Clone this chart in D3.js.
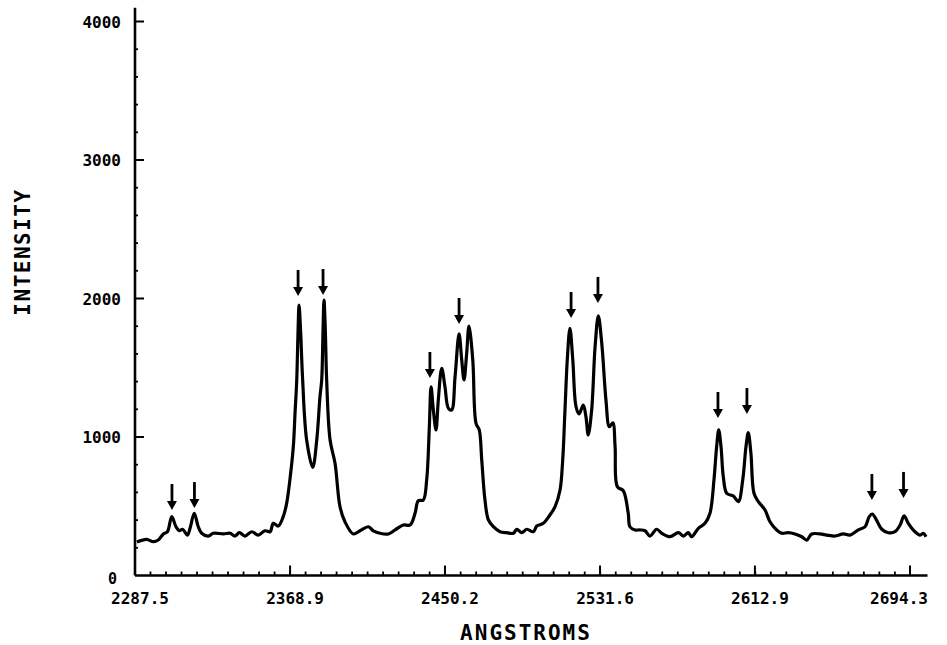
<!DOCTYPE html>
<html>
<head>
<meta charset="utf-8">
<script src="https://cdn.jsdelivr.net/npm/d3@7"></script>
<style>
  html, body { margin: 0; padding: 0; background: #fff; }
  svg { display: block; }
  text { font-family: "DejaVu Sans Mono", "Liberation Mono", monospace; font-weight: bold; fill: #000; }
</style>
</head>
<body>
<svg id="chart" width="947" height="645"></svg>
<script>
// Emission spectrum trace: wavelength (angstroms) and recorded intensity
const wavelengths = [
  2288.5, 2293.6, 2297.1, 2299.7, 2302.4, 2304.5, 2306.8, 2309.0, 2310.8, 2312.5,
  2315.0, 2316.4, 2318.6, 2320.7, 2322.5, 2326.0, 2328.6, 2333.9, 2337.4, 2340.0,
  2342.3, 2345.2, 2348.8, 2352.2, 2355.7, 2358.4, 2360.1, 2362.7, 2365.3, 2367.1,
  2369.2, 2370.6, 2371.5, 2372.4, 2373.1, 2373.6, 2374.4, 2375.5, 2377.6, 2380.8,
  2382.9, 2384.6, 2385.5, 2386.2, 2386.7, 2387.4, 2388.1, 2389.9, 2392.5, 2395.1,
  2397.7, 2402.1, 2405.6, 2410.0, 2412.6, 2416.1, 2420.5, 2424.0, 2428.3, 2431.9,
  2434.5, 2436.2, 2438.8, 2440.6, 2442.0, 2442.9, 2444.1, 2445.5, 2446.7, 2448.5,
  2450.2, 2452.0, 2453.7, 2455.5, 2457.6, 2459.0, 2460.2, 2461.6, 2462.8, 2464.8,
  2466.5, 2468.2, 2469.5, 2471.2, 2473.0, 2475.6, 2479.1, 2482.6, 2486.1, 2487.9,
  2490.5, 2493.1, 2496.6, 2498.4, 2501.8, 2505.3, 2508.0, 2510.6, 2512.0, 2513.2,
  2514.4, 2515.8, 2517.3, 2519.0, 2520.6, 2522.8, 2524.2, 2525.4, 2527.2, 2529.0,
  2530.7, 2532.5, 2534.7, 2536.5, 2538.3, 2539.5, 2540.7, 2543.8, 2546.4, 2547.3,
  2550.0, 2552.6, 2555.2, 2557.8, 2561.3, 2564.0, 2568.3, 2572.7, 2575.3, 2577.9,
  2579.7, 2583.2, 2586.7, 2589.3, 2591.4, 2592.8, 2593.9, 2595.1, 2596.3, 2598.1,
  2601.6, 2604.2, 2606.5, 2608.2, 2609.4, 2610.8, 2612.4, 2614.7, 2618.2, 2620.8,
  2624.3, 2627.0, 2630.4, 2633.9, 2637.5, 2640.1, 2642.7, 2647.1, 2650.6, 2654.9,
  2659.3, 2662.8, 2667.2, 2670.7, 2672.9, 2674.5, 2676.5, 2679.5, 2682.9, 2686.4,
  2689.1, 2691.2, 2693.4, 2696.9, 2699.6, 2701.3, 2702.7
];
const intensities = [
   242,  261,  244,  256,  300,  316,  425,  352,  323,  334,
   292,  341,  449,  352,  305,  285,  305,  300,  305,  285,
   309,  285,  316,  292,  323,  316,  377,  357,  425,  521,
   738,  930, 1171, 1412, 1773, 1953, 1773, 1412,  978,  781,
   978, 1291, 1412, 1773, 1989, 1773, 1412,  978,  810,  497,
   388,  300,  323,  352,  323,  305,  300,  329,  365,  365,
   449,  540,  545,  690, 1074, 1363, 1195, 1051, 1267, 1496,
  1363, 1207, 1195, 1435, 1744, 1556, 1412, 1604, 1801, 1556,
  1099, 1051,  834,  545,  401,  352,  316,  309,  305,  334,
   309,  334,  316,  357,  377,  437,  497,  617,  834, 1195,
  1556, 1785, 1556, 1219, 1166, 1231, 1147, 1014, 1195, 1652,
  1874, 1677, 1267, 1074, 1103,  930,  641,  612,  449,  352,
   329,  329,  323,  285,  334,  305,  280,  309,  285,  309,
   280,  341,  377,  449,  690,  930, 1051,  930,  713,  594,
   574,  533,  690,  930, 1031,  882,  594,  533,  473,  388,
   329,  305,  309,  300,  280,  256,  300,  300,  292,  285,
   300,  292,  329,  352,  425,  444,  406,  334,  309,  316,
   365,  430,  377,  316,  292,  305,  280
];

// Axis ticks
const xTickValues = [2287.5, 2368.9, 2450.2, 2531.6, 2612.9, 2694.3];
const xTickLabels = ["2287.5", "2368.9", "2450.2", "2531.6", "2612.9", "2694.3"];
const yTickValues = [0, 1000, 2000, 3000, 4000];
const yTickLabels = ["0", "1000", "2000", "3000", "4000"];

// Marked lines: wavelength and intensity at the arrow tip
const arrowWavelengths = [2306.9, 2318.7, 2373.1, 2386.2, 2442.3, 2457.6, 2516.4, 2530.5, 2593.5, 2608.7, 2674.3, 2690.9];
const arrowTips = [473, 487, 2018, 2025, 1426, 1816, 1859, 1968, 1137, 1166, 545, 560];

const svg = d3.select("#chart");

const x = d3.scaleLinear().domain([2287.5, 2694.3]).range([135, 910]);
const y = d3.scaleLinear().domain([0, 4000]).range([575.5, 21.5]);

const xAxisEnd = 2703.5;
const yAxisTop = 4100;
const xMinorStep = (xTickValues[1] - xTickValues[0]) / 10;

// Axis lines
svg.append("line")
  .attr("x1", x(xTickValues[0])).attr("x2", x(xAxisEnd))
  .attr("y1", y(0)).attr("y2", y(0))
  .attr("stroke", "#000").attr("stroke-width", 2.6);
svg.append("line")
  .attr("x1", x(xTickValues[0])).attr("x2", x(xTickValues[0]))
  .attr("y1", y(0)).attr("y2", y(yAxisTop))
  .attr("stroke", "#000").attr("stroke-width", 2.6);

// X ticks (minor every tenth of an interval, major at labels)
const xMinor = d3.range(1, 50).map(i => xTickValues[0] + i * xMinorStep);
svg.append("g").selectAll("line").data(xMinor).join("line")
  .attr("x1", d => x(d)).attr("x2", d => x(d))
  .attr("y1", y(0)).attr("y2", y(0) - 4)
  .attr("stroke", "#000").attr("stroke-width", 1.8);
svg.append("g").selectAll("line").data(xTickValues.slice(1)).join("line")
  .attr("x1", d => x(d)).attr("x2", d => x(d))
  .attr("y1", y(0)).attr("y2", y(0) - 10)
  .attr("stroke", "#000").attr("stroke-width", 2);

// Y ticks
const yMinor = d3.range(200, 4001, 200).filter(v => v % 1000 !== 0);
svg.append("g").selectAll("line").data(yMinor).join("line")
  .attr("x1", x(xTickValues[0])).attr("x2", x(xTickValues[0]) + 3)
  .attr("y1", d => y(d)).attr("y2", d => y(d))
  .attr("stroke", "#000").attr("stroke-width", 1.8);
svg.append("g").selectAll("line").data(yTickValues.slice(1)).join("line")
  .attr("x1", x(xTickValues[0])).attr("x2", x(xTickValues[0]) + 9)
  .attr("y1", d => y(d)).attr("y2", d => y(d))
  .attr("stroke", "#000").attr("stroke-width", 2);

// Tick labels
const lastX = xTickValues.length - 1;
svg.append("g").selectAll("text").data(xTickValues).join("text")
  .attr("x", (d, i) => x(d) + (i === lastX ? -11 : 5))
  .attr("y", y(0) + 28)
  .attr("text-anchor", "middle")
  .attr("font-size", 16)
  .text((d, i) => xTickLabels[i]);

svg.append("g").selectAll("text").data(yTickValues).join("text")
  .attr("x", (d) => d === 0 ? 117 : 121)
  .attr("y", d => y(d) + (d === 0 ? 8 : 6))
  .attr("text-anchor", "end")
  .attr("font-size", d => d === 0 ? 15 : 16)
  .text((d, i) => yTickLabels[i]);

// Axis titles
svg.append("text")
  .attr("x", 526).attr("y", 640)
  .attr("text-anchor", "middle")
  .attr("font-size", 21)
  .attr("font-weight", "normal")
  .style("letter-spacing", "2px")
  .text("ANGSTROMS");

svg.append("text")
  .attr("transform", "translate(30,252) rotate(-90)")
  .attr("text-anchor", "middle")
  .attr("font-size", 21)
  .attr("font-weight", "normal")
  .style("letter-spacing", "1.5px")
  .text("INTENSITY");

// Spectrum trace
const trace = wavelengths.map((w, i) => [w, intensities[i]]);
svg.append("path")
  .datum(trace)
  .attr("fill", "none")
  .attr("stroke", "#000")
  .attr("stroke-width", 3.2)
  .attr("stroke-linejoin", "round")
  .attr("d", d3.line().x(d => x(d[0])).y(d => y(d[1])).curve(d3.curveCatmullRom.alpha(0.5)));

// Arrows marking identified lines
const arrows = svg.append("g").selectAll("g")
  .data(arrowWavelengths.map((w, i) => ({ w, tip: arrowTips[i] })))
  .join("g")
  .attr("transform", d => `translate(${x(d.w)},${y(d.tip)})`);
arrows.append("line")
  .attr("x1", 0).attr("x2", 0).attr("y1", -26).attr("y2", -6)
  .attr("stroke", "#000").attr("stroke-width", 2.8);
arrows.append("path")
  .attr("d", "M-5,-9 L5,-9 L0,0 Z")
  .attr("fill", "#000");
</script>
</body>
</html>
